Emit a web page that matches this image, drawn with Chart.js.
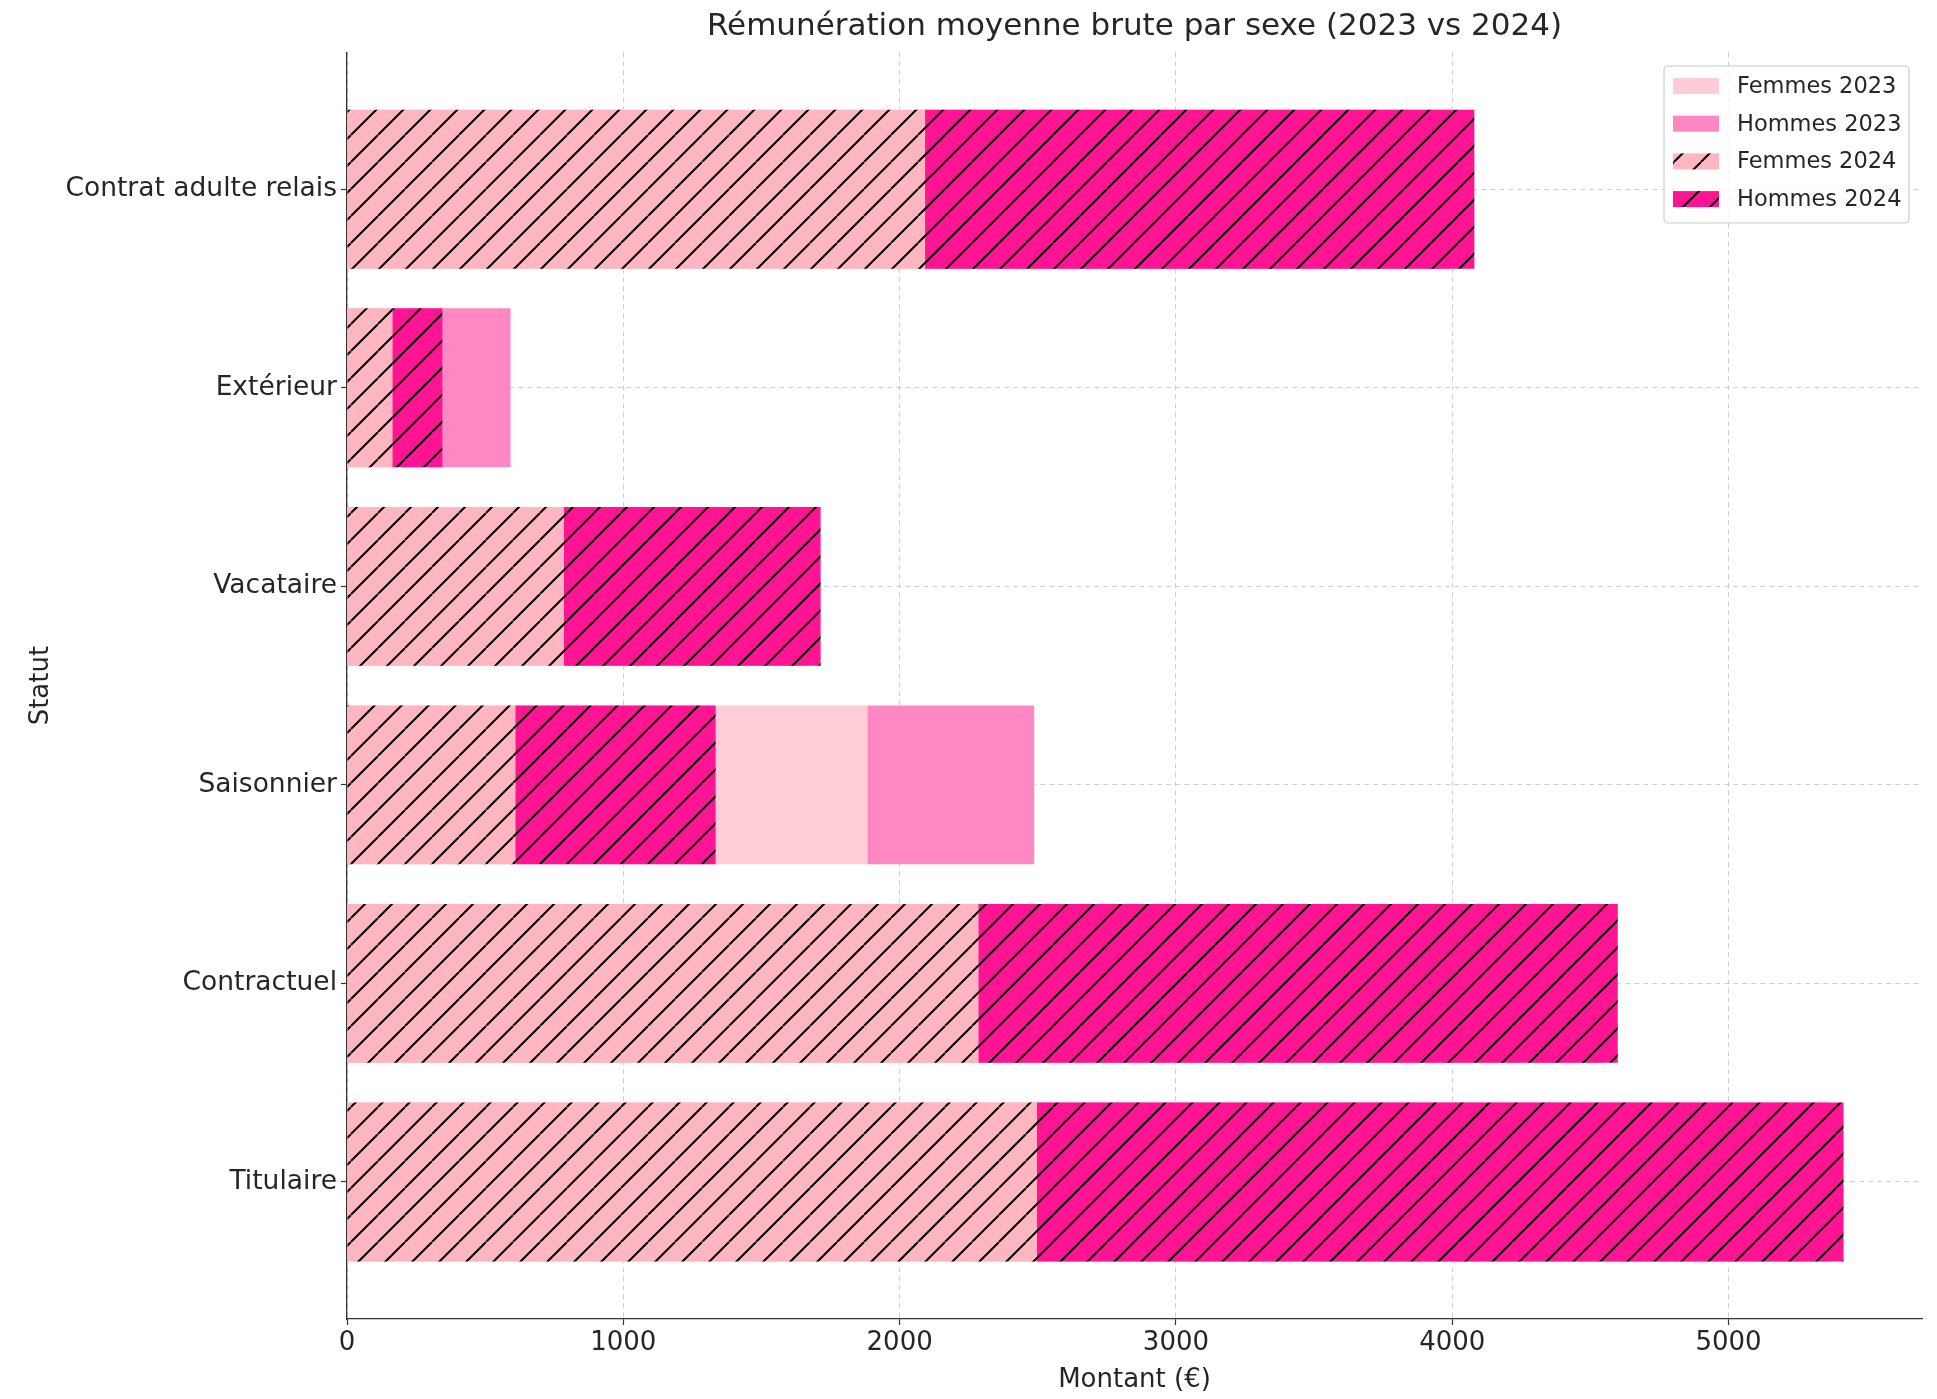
<!DOCTYPE html>
<html>
<head>
<meta charset="utf-8">
<script src="https://cdn.jsdelivr.net/npm/chart.js@4.4.1/dist/chart.umd.min.js"></script>
<style>
html,body{margin:0;padding:0;background:#fff;}
#wrap{width:1937px;height:1399px;}
</style>
</head>
<body>
<div id="wrap"><canvas id="c" width="1937" height="1399"></canvas></div>
<script>
// ---- Data (top to bottom) ----
const categories = ['Contrat adulte relais', 'Extérieur', 'Vacataire', 'Saisonnier', 'Contractuel', 'Titulaire'];
const femmes2023 = [2050, 320, 770, 1883, 2250, 2460];
const hommes2023 = [1950, 272, 900, 604, 2300, 2900];
const femmes2024 = [2092, 164, 785, 609, 2285, 2497];
const hommes2024 = [1988, 181, 929, 725, 2314, 2919];
const xTicks = [0, 1000, 2000, 3000, 4000, 5000];
const seriesLabels = ['Femmes 2023', 'Hommes 2023', 'Femmes 2024', 'Hommes 2024'];
const chartTitle = 'Rémunération moyenne brute par sexe (2023 vs 2024)';
const xTitle = 'Montant (€)';
const yTitle = 'Statut';

const FONT = '"DejaVu Sans", sans-serif';
const TEXT = '#262626';
Chart.defaults.font.family = FONT;
Chart.defaults.color = TEXT;

const canvas = document.getElementById('c');
const mainCtx = canvas.getContext('2d');

function hatch(color) {
  const s = 27;
  const t = document.createElement('canvas');
  t.width = s; t.height = s;
  const g = t.getContext('2d');
  g.fillStyle = color;
  g.fillRect(0, 0, s, s);
  g.strokeStyle = '#000';
  g.lineWidth = 2;
  g.beginPath();
  for (let k = -1; k <= 1; k++) {
    g.moveTo(k * s, s);
    g.lineTo(k * s + s, 0);
  }
  g.stroke();
  return mainCtx.createPattern(t, 'repeat');
}

const toPts = arr => arr.map((v, i) => ({x: v, y: i}));

const gridColor = 'rgba(150,150,150,0.45)';

const legendPlugin = {
  id: 'mplLegend',
  afterDraw(chart) {
    const ctx = chart.ctx;
    ctx.save();
    const x0 = 1664, y0 = 66, w = 245, h = 157, r = 4;
    ctx.beginPath();
    ctx.moveTo(x0 + r, y0);
    ctx.arcTo(x0 + w, y0, x0 + w, y0 + h, r);
    ctx.arcTo(x0 + w, y0 + h, x0, y0 + h, r);
    ctx.arcTo(x0, y0 + h, x0, y0, r);
    ctx.arcTo(x0, y0, x0 + w, y0, r);
    ctx.closePath();
    ctx.fillStyle = 'rgba(255,255,255,0.8)';
    ctx.fill();
    ctx.strokeStyle = '#cccccc';
    ctx.lineWidth = 1.2;
    ctx.stroke();
    chart.data.datasets.forEach((ds, i) => {
      const cy = 86 + i * 37.7;
      ctx.fillStyle = ds.backgroundColor;
      ctx.fillRect(1673, cy - 8, 46, 16);
      ctx.fillStyle = TEXT;
      ctx.font = '22.5px ' + FONT;
      ctx.textBaseline = 'middle';
      ctx.textAlign = 'left';
      ctx.fillText(ds.label, 1737, cy + 1);
    });
    ctx.restore();
  }
};

new Chart(mainCtx, {
  type: 'bar',
  data: {
    datasets: [
      {label: seriesLabels[0], data: toPts(femmes2023), backgroundColor: '#FFCDD5', stack: '2023', order: 1},
      {label: seriesLabels[1], data: toPts(hommes2023), backgroundColor: '#FF87C3', stack: '2023', order: 1},
      {label: seriesLabels[2], data: toPts(femmes2024), backgroundColor: hatch('#FFB6C1'), stack: '2024', order: 0},
      {label: seriesLabels[3], data: toPts(hommes2024), backgroundColor: hatch('#FF1493'), stack: '2024', order: 0}
    ]
  },
  options: {
    indexAxis: 'y',
    responsive: false,
    animation: false,
    devicePixelRatio: 1,
    layout: {padding: {left: 0, right: 15, top: 0, bottom: 0}},
    datasets: {
      bar: {grouped: false, barPercentage: 0.8, categoryPercentage: 1.0, borderWidth: 0}
    },
    plugins: {
      legend: {display: false},
      tooltip: {enabled: false},
      title: {
        display: true,
        text: chartTitle,
        fullSize: false,
        color: TEXT,
        font: {size: 31, weight: 'normal'},
        padding: {top: 8.5, bottom: 6.5}
      }
    },
    scales: {
      x: {
        type: 'linear',
        position: 'bottom',
        stacked: true,
        min: 0,
        max: 5700,
        offset: false,
        z: 1,
        afterFit(s) { s.height = 80; },
        afterBuildTicks(s) { s.ticks = xTicks.map(v => ({value: v})); },
        ticks: {autoSkip: false, callback: (v) => String(v), font: {size: 26}, color: TEXT, padding: 3},
        grid: {offset: false, color: gridColor, lineWidth: 1, tickLength: 6, tickColor: '#333', tickWidth: 1.2},
        border: {display: true, color: '#333', width: 1.3, dash: [5, 4]},
        title: {display: true, text: xTitle, font: {size: 26}, color: TEXT, padding: {top: 0, bottom: 3}}
      },
      y: {
        type: 'linear',
        position: 'left',
        min: -0.69,
        max: 5.69,
        reverse: true,
        offset: false,
        z: 1,
        afterFit(s) { s.width = 347; },
        afterBuildTicks(s) { s.ticks = categories.map((c, i) => ({value: i})); },
        ticks: {
          autoSkip: false,
          callback: (v) => categories[v],
          font: {size: 26.5}, color: TEXT, padding: 4
        },
        grid: {offset: false, color: gridColor, lineWidth: 1, tickLength: 6, tickColor: '#333', tickWidth: 1.2},
        border: {display: true, color: '#333', width: 1.3, dash: [5, 4]},
        title: {display: true, text: yTitle, font: {size: 26}, color: TEXT, padding: {top: 26, bottom: 0}}
      }
    }
  },
  plugins: [legendPlugin]
});
</script>
</body>
</html>
